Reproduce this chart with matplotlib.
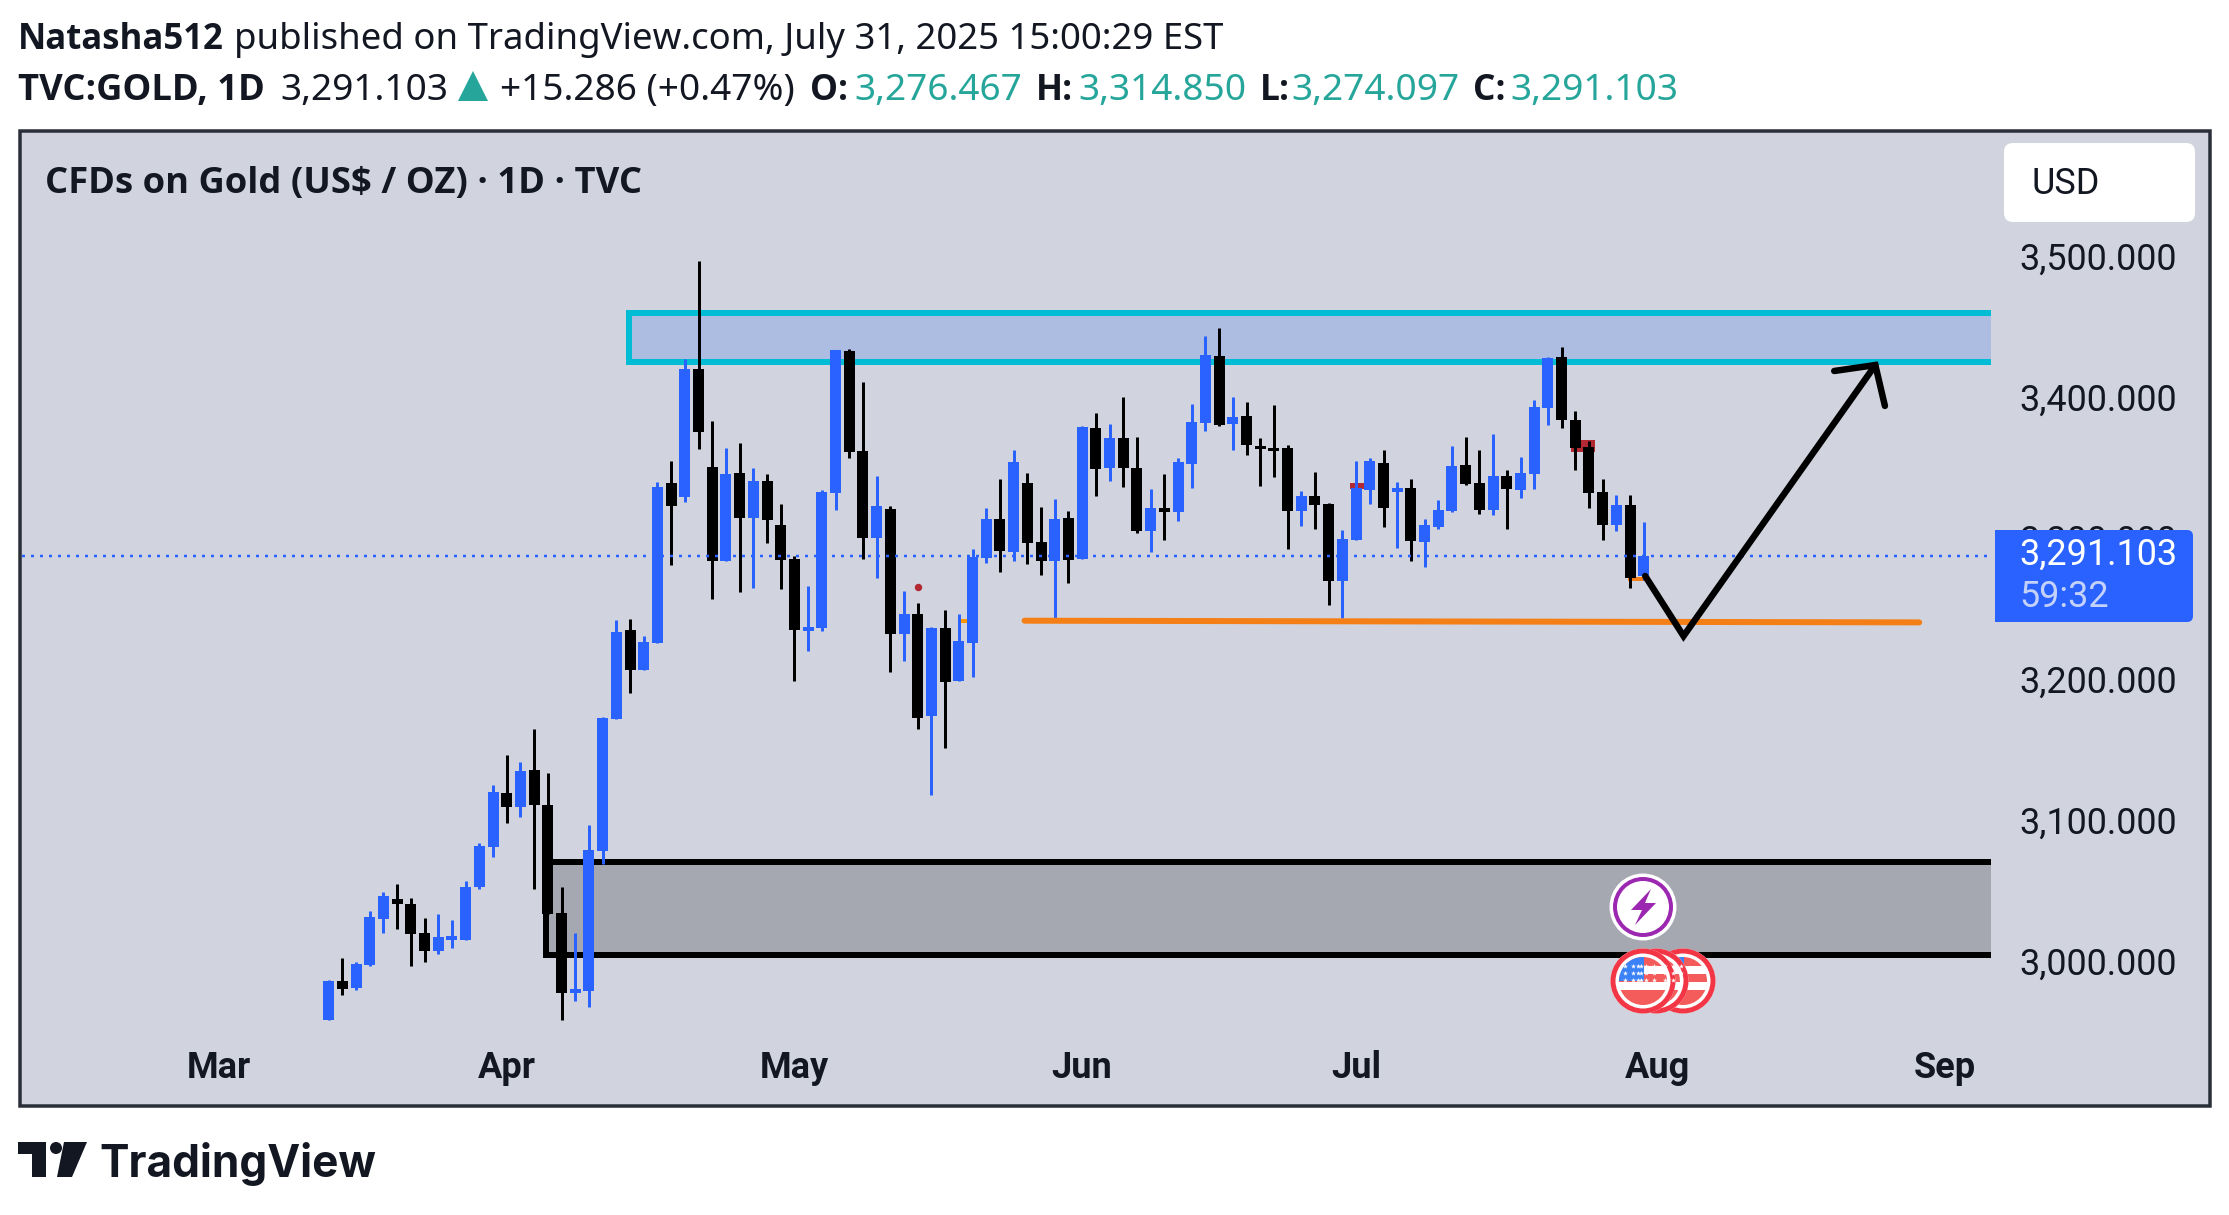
import matplotlib
matplotlib.use("Agg")
import matplotlib.pyplot as plt
from matplotlib.patches import Rectangle, Circle, Polygon, FancyBboxPatch
from matplotlib.transforms import ScaledTranslation

W, H = 2229, 1215
first_bar = 8
opens = [2961.7,2989.6,2984.5,3000.8,3033.3,3047.8,3044.2,3023.6,3010.5,3018.5,3018.5,3056.1,3084.4,3122.7,3112.9,3139.0,3114.4,3037.7,2981.2,2982.3,3081.5,3175.2,3238.5,3209.9,3229.1,3342.7,3332.6,3423.4,3353.9,3287.3,3349.6,3317.7,3344.1,3312.7,3288.8,3237.8,3239.9,3335.4,3436.0,3365.2,3303.5,3324.1,3235.4,3249.6,3177.3,3239.7,3202.1,3229.0,3289.3,3317.0,3293.6,3342.5,3300.7,3287.2,3317.7,3288.6,3381.5,3353.2,3374.4,3353.2,3308.5,3324.8,3321.9,3356.0,3385.1,3432.6,3384.4,3390.0,3368.8,3367.1,3367.3,3322.7,3333.3,3327.6,3273.0,3302.1,3337.6,3356.7,3336.1,3338.9,3300.8,3311.4,3322.7,3355.1,3342.4,3323.4,3347.4,3337.5,3348.8,3395.7,3431.7,3387.3,3368.2,3336.4,3312.8,3326.9,3276.467]
highs = [2990.3,3005.8,3002.9,3039.1,3052.5,3058.3,3048.2,3034.1,3037.0,3032.6,3060.5,3087.2,3128.5,3149.8,3144.8,3168.3,3136.8,3056.1,3023.6,3099.9,3176.6,3245.4,3246.1,3234.1,3343.4,3358.2,3430.6,3500.1,3386.5,3367.3,3370.9,3353.2,3348.8,3327.9,3290.9,3269.6,3337.6,3436.8,3437.5,3414.1,3347.5,3326.2,3265.9,3257.4,3240.4,3252.4,3249.6,3295.7,3324.8,3345.4,3365.9,3349.6,3325.5,3331.2,3322.7,3382.9,3392.2,3384.4,3403.5,3375.1,3338.3,3348.9,3360.2,3398.5,3446.8,3452.4,3403.5,3400.0,3374.4,3397.8,3369.5,3336.8,3350.3,3328.3,3309.2,3358.1,3360.2,3365.9,3343.2,3345.3,3317.0,3330.4,3368.9,3375.3,3365.7,3377.4,3351.6,3360.8,3401.4,3431.7,3439.1,3393.6,3372.4,3345.3,3334.0,3334.0,3314.85]
lows = [2961.7,2979.4,2983.1,3000.1,3023.6,3026.5,3000.1,3002.9,3008.7,3012.7,3018.5,3054.7,3077.5,3101.4,3105.7,3054.7,3037.0,2961.7,2975.1,2971.1,3072.4,3175.2,3193.6,3209.9,3229.1,3284.4,3328.9,3366.6,3260.2,3287.3,3265.3,3268.2,3300.0,3267.4,3202.3,3223.3,3237.8,3323.5,3360.4,3288.6,3275.1,3208.5,3216.3,3168.1,3121.3,3154.6,3202.1,3204.9,3285.8,3279.4,3287.2,3285.1,3277.3,3245.4,3271.6,3288.6,3333.3,3343.9,3339.7,3307.1,3293.6,3302.1,3315.6,3339.0,3379.4,3382.9,3365.9,3362.4,3340.4,3346.8,3295.7,3312.0,3309.9,3256.0,3246.8,3302.1,3327.6,3311.3,3296.4,3287.0,3282.8,3310.0,3322.0,3341.0,3320.6,3319.8,3310.0,3331.8,3338.2,3383.4,3381.6,3351.6,3324.8,3302.2,3308.6,3268.3,3274.097]
closes = [2989.6,2983.8,3001.5,3034.8,3049.6,3044.2,3022.9,3010.5,3020.7,3021.0,3056.1,3085.1,3123.4,3112.9,3138.3,3114.4,3037.0,2980.9,2983.8,3082.2,3175.9,3237.0,3209.9,3229.8,3339.8,3326.4,3423.4,3378.9,3287.3,3348.8,3317.7,3344.1,3316.3,3288.0,3238.5,3240.3,3336.2,3436.8,3364.4,3303.5,3326.2,3235.4,3249.6,3175.9,3239.7,3201.4,3230.5,3290.3,3317.0,3294.3,3357.4,3300.0,3287.2,3317.0,3287.9,3382.2,3352.4,3374.4,3353.2,3308.5,3324.8,3321.9,3357.4,3385.8,3433.3,3383.6,3389.3,3369.5,3366.9,3365.2,3322.7,3333.3,3326.9,3273.0,3302.8,3339.0,3358.1,3324.8,3339.0,3301.5,3312.8,3323.4,3354.4,3341.7,3323.4,3347.4,3338.2,3349.5,3396.4,3431.0,3387.3,3367.5,3335.4,3312.8,3326.9,3275.4,3291.103]
last_price = 3291.103
month_pos = [0, 21, 42, 63, 83, 105, 126]
month_labels = ["Mar", "Apr", "May", "Jun", "Jul", "Aug", "Sep"]
price_ticks = [3000, 3100, 3200, 3300, 3400, 3500]
price_labels = ["3,000.000", "3,100.000", "3,200.000", "3,300.000", "3,400.000", "3,500.000"]
resistance_zone = (29.9, 135, 3428.4, 3463.1)
demand_zone = (23.9, 135, 3007.8, 3073.8)
support_x = [58.8, 124.1]
support_y = [3244.9, 3243.7]
path_x = [104.1, 106.9, 120.9]
path_y = [3276.6, 3234.0, 3426.2]
head_x = [117.9, 120.9, 121.6]
head_y = [3422.0, 3426.2, 3397.2]

BG = "#d1d4de"; BLUE = "#2962ff"; INK = "#131722"; TEAL = "#26a69a"; FRAME = "#2a2e39"
PX = 72 / 100

fig = plt.figure(figsize=(W/100, H/100), dpi=100, facecolor="white")

def overlay(z):
    a = fig.add_axes([0, 0, 1, 1], zorder=z)
    a.set_xlim(0, W); a.set_ylim(H, 0); a.axis("off")
    a.patch.set_alpha(0)
    return a

bg = overlay(0)
bg.add_patch(Rectangle((20, 130.5), 2190, 975, fc=BG, ec=FRAME, lw=3.5*PX))

L, R, T, B = 22, 1991, 132, 1104
ax = fig.add_axes([L/W, 1-B/H, (R-L)/W, (B-T)/H], zorder=1)
ax.patch.set_alpha(0)
for s in ax.spines.values():
    s.set_visible(False)
ax.set_xlim((L-219)/13.7, (R-219)/13.7)
ax.set_ylim(3000+(966-B)/1.41, 3000+(966-T)/1.41)

rz = resistance_zone
ax.add_patch(Rectangle((rz[0], rz[2]), rz[1]-rz[0], rz[3]-rz[2], fc="#adbde2", ec="#00bcd4", lw=6*PX, zorder=1))
dz = demand_zone
ax.add_patch(Rectangle((dz[0], dz[2]), dz[1]-dz[0], dz[3]-dz[2], fc="#a5a8b1", ec="black", lw=6*PX, zorder=1))

ax.plot([54.1, 54.7], [3244.9, 3244.9], color="#ff9800", lw=4*PX, zorder=1.5)
ax.plot([103, 104], [3274.7, 3274.7], color="#f57f17", lw=4*PX, zorder=1.5)
ax.plot([51], [3268.8], "o", color="#b22833", ms=6*PX, zorder=1.5)
ax.plot([82.8, 83.6], [3340.4, 3340.4], color="#b22833", lw=6*PX, zorder=1.5)
ax.plot([99.1, 100], [3368.7, 3368.7], color="#b22833", lw=12*PX, zorder=1.5)

for k in range(len(opens)):
    x = first_bar + k
    c = BLUE if closes[k] >= opens[k] else "black"
    ax.vlines(x, lows[k], highs[k], color=c, lw=3*PX, zorder=3)
    ax.bar(x, abs(closes[k]-opens[k]), bottom=min(opens[k], closes[k]), width=11/13.7, color=c, lw=0, zorder=3)

ax.plot(support_x, support_y, color="#f57f17", lw=6*PX, solid_capstyle="round", zorder=3.5)
ax.plot(path_x, path_y, color="black", lw=6.5*PX, solid_joinstyle="miter", solid_capstyle="round", zorder=4)
ax.plot(head_x, head_y, color="black", lw=6.5*PX, solid_joinstyle="miter", solid_capstyle="round", zorder=4)
ax.axhline(last_price, color=BLUE, lw=2.5*PX, ls=(0, (1.2, 2.4)), zorder=3.6)

ax.set_xticks(month_pos, month_labels, fontfamily="Roboto", fontweight="bold", fontsize=26)
ax.set_yticks(price_ticks, price_labels, fontfamily="Roboto", fontsize=25.9)
ax.yaxis.tick_right()
ax.tick_params(axis="y", length=0, pad=20.5, colors=INK)
ax.tick_params(axis="x", length=0, pad=-39, colors=INK)
off = ScaledTranslation(0, 5.5/100, fig.dpi_scale_trans)
for lab in ax.get_yticklabels():
    lab.set_transform(lab.get_transform() + off)

fg = overlay(2)
def txt(x, y, s, weight="normal", color=INK, size=26.5, fam="Noto Sans", **kw):
    fg.text(x, y, s, fontfamily=fam, fontweight=weight, color=color, fontsize=size, va="baseline", ha="left", **kw)

BF = "Open Sans"
txt(18, 49, "Natasha512", "bold", fam=BF, size=25)
txt(234.5, 49, "published on TradingView.com, July 31, 2025 15:00:29 EST", size=26.3)
txt(18, 100, "TVC:GOLD, 1D", "bold", fam=BF, size=26.2)
txt(280, 100, "3,291.103", size=26.7)
fg.add_patch(Polygon([(458, 101), (488, 101), (473, 71)], fc=TEAL, ec="none"))
txt(500, 100, "+15.286 (+0.47%)", size=26.7)
for lx, ls, vx, vs in [(810, "O:", 854, "3,276.467"), (1036, "H:", 1078, "3,314.850"),
                       (1260, "L:", 1291, "3,274.097"), (1473, "C:", 1510, "3,291.103")]:
    txt(lx, 100, ls, "bold", fam=BF, size=25.5)
    txt(vx, 100, vs, color=TEAL, size=26.7)
txt(45, 193.5, "CFDs on Gold (US$ / OZ) · 1D · TVC", "bold", fam=BF, size=26.2)

fg.add_patch(FancyBboxPatch((2004, 143), 191, 79, boxstyle="round,pad=0,rounding_size=9", fc="white", ec="none"))
txt(2031, 194, "USD", fam="Roboto", size=25.9)

fg.add_patch(FancyBboxPatch((1995, 530), 198, 92, boxstyle="round,pad=0,rounding_size=6", fc=BLUE, ec="none"))
fg.add_patch(Rectangle((1995, 530), 20, 92, fc=BLUE, ec="none"))
txt(2019, 565, "3,291.103", color="white", fam="Roboto", size=25.9)
txt(2019, 607, "59:32", color="#c3d1fb", fam="Roboto", size=25.9)

def bolt_icon(cx, cy):
    fg.add_patch(Circle((cx, cy), 33.5, fc="white", ec="none"))
    fg.add_patch(Circle((cx, cy), 28, fc="white", ec="#9c27b0", lw=4*PX))
    pts = [(8, -18), (-12, 3), (-1, 3), (-8, 18), (13, -4), (2, -4)]
    fg.add_patch(Polygon([(cx+a, cy+b) for a, b in pts], fc="#9c27b0", ec="none"))

def flag_icon(cx, cy):
    fg.add_patch(Circle((cx, cy), 32.5, fc="white", ec="none"))
    fg.add_patch(Circle((cx, cy), 30, fc="white", ec="#f23645", lw=5*PX))
    clip = Circle((cx, cy), 24, transform=fg.transData)
    for y0, h in [(-24, 9), (-7, 8), (9, 16)]:
        p = Rectangle((cx-24, cy+y0), 48, h, fc="#f45b5b", ec="none"); fg.add_patch(p); p.set_clip_path(clip)
    p = Rectangle((cx-24, cy-24), 25, 24, fc="#3b82f6", ec="none"); fg.add_patch(p); p.set_clip_path(clip)
    sx, sy = [], []
    for i in (-16, -8, 0):
        for j in (-16, -9, -2):
            sx.append(cx+i-2); sy.append(cy+j+1)
    return fg.scatter(sx, sy, s=14, marker="*", color="white", lw=0)

flag_icon(1683, 981).set_zorder(1.01)
flag_icon(1656, 981).set_zorder(1.01)
flag_icon(1643, 981).set_zorder(2)
bolt_icon(1643, 907)

fg.add_patch(Polygon([(18, 1142), (46, 1142), (46, 1177), (32, 1177), (32, 1154), (18, 1154)], fc=INK, ec="none"))
fg.add_patch(Circle((56, 1148), 6, fc=INK, ec="none"))
fg.add_patch(Polygon([(64, 1142), (87, 1142), (72, 1177), (57, 1177)], fc=INK, ec="none"))
txt(99, 1177, "TradingView", "bold", fam="Inter", size=31.8)

fig.savefig("out.png", dpi=100, facecolor="white")
